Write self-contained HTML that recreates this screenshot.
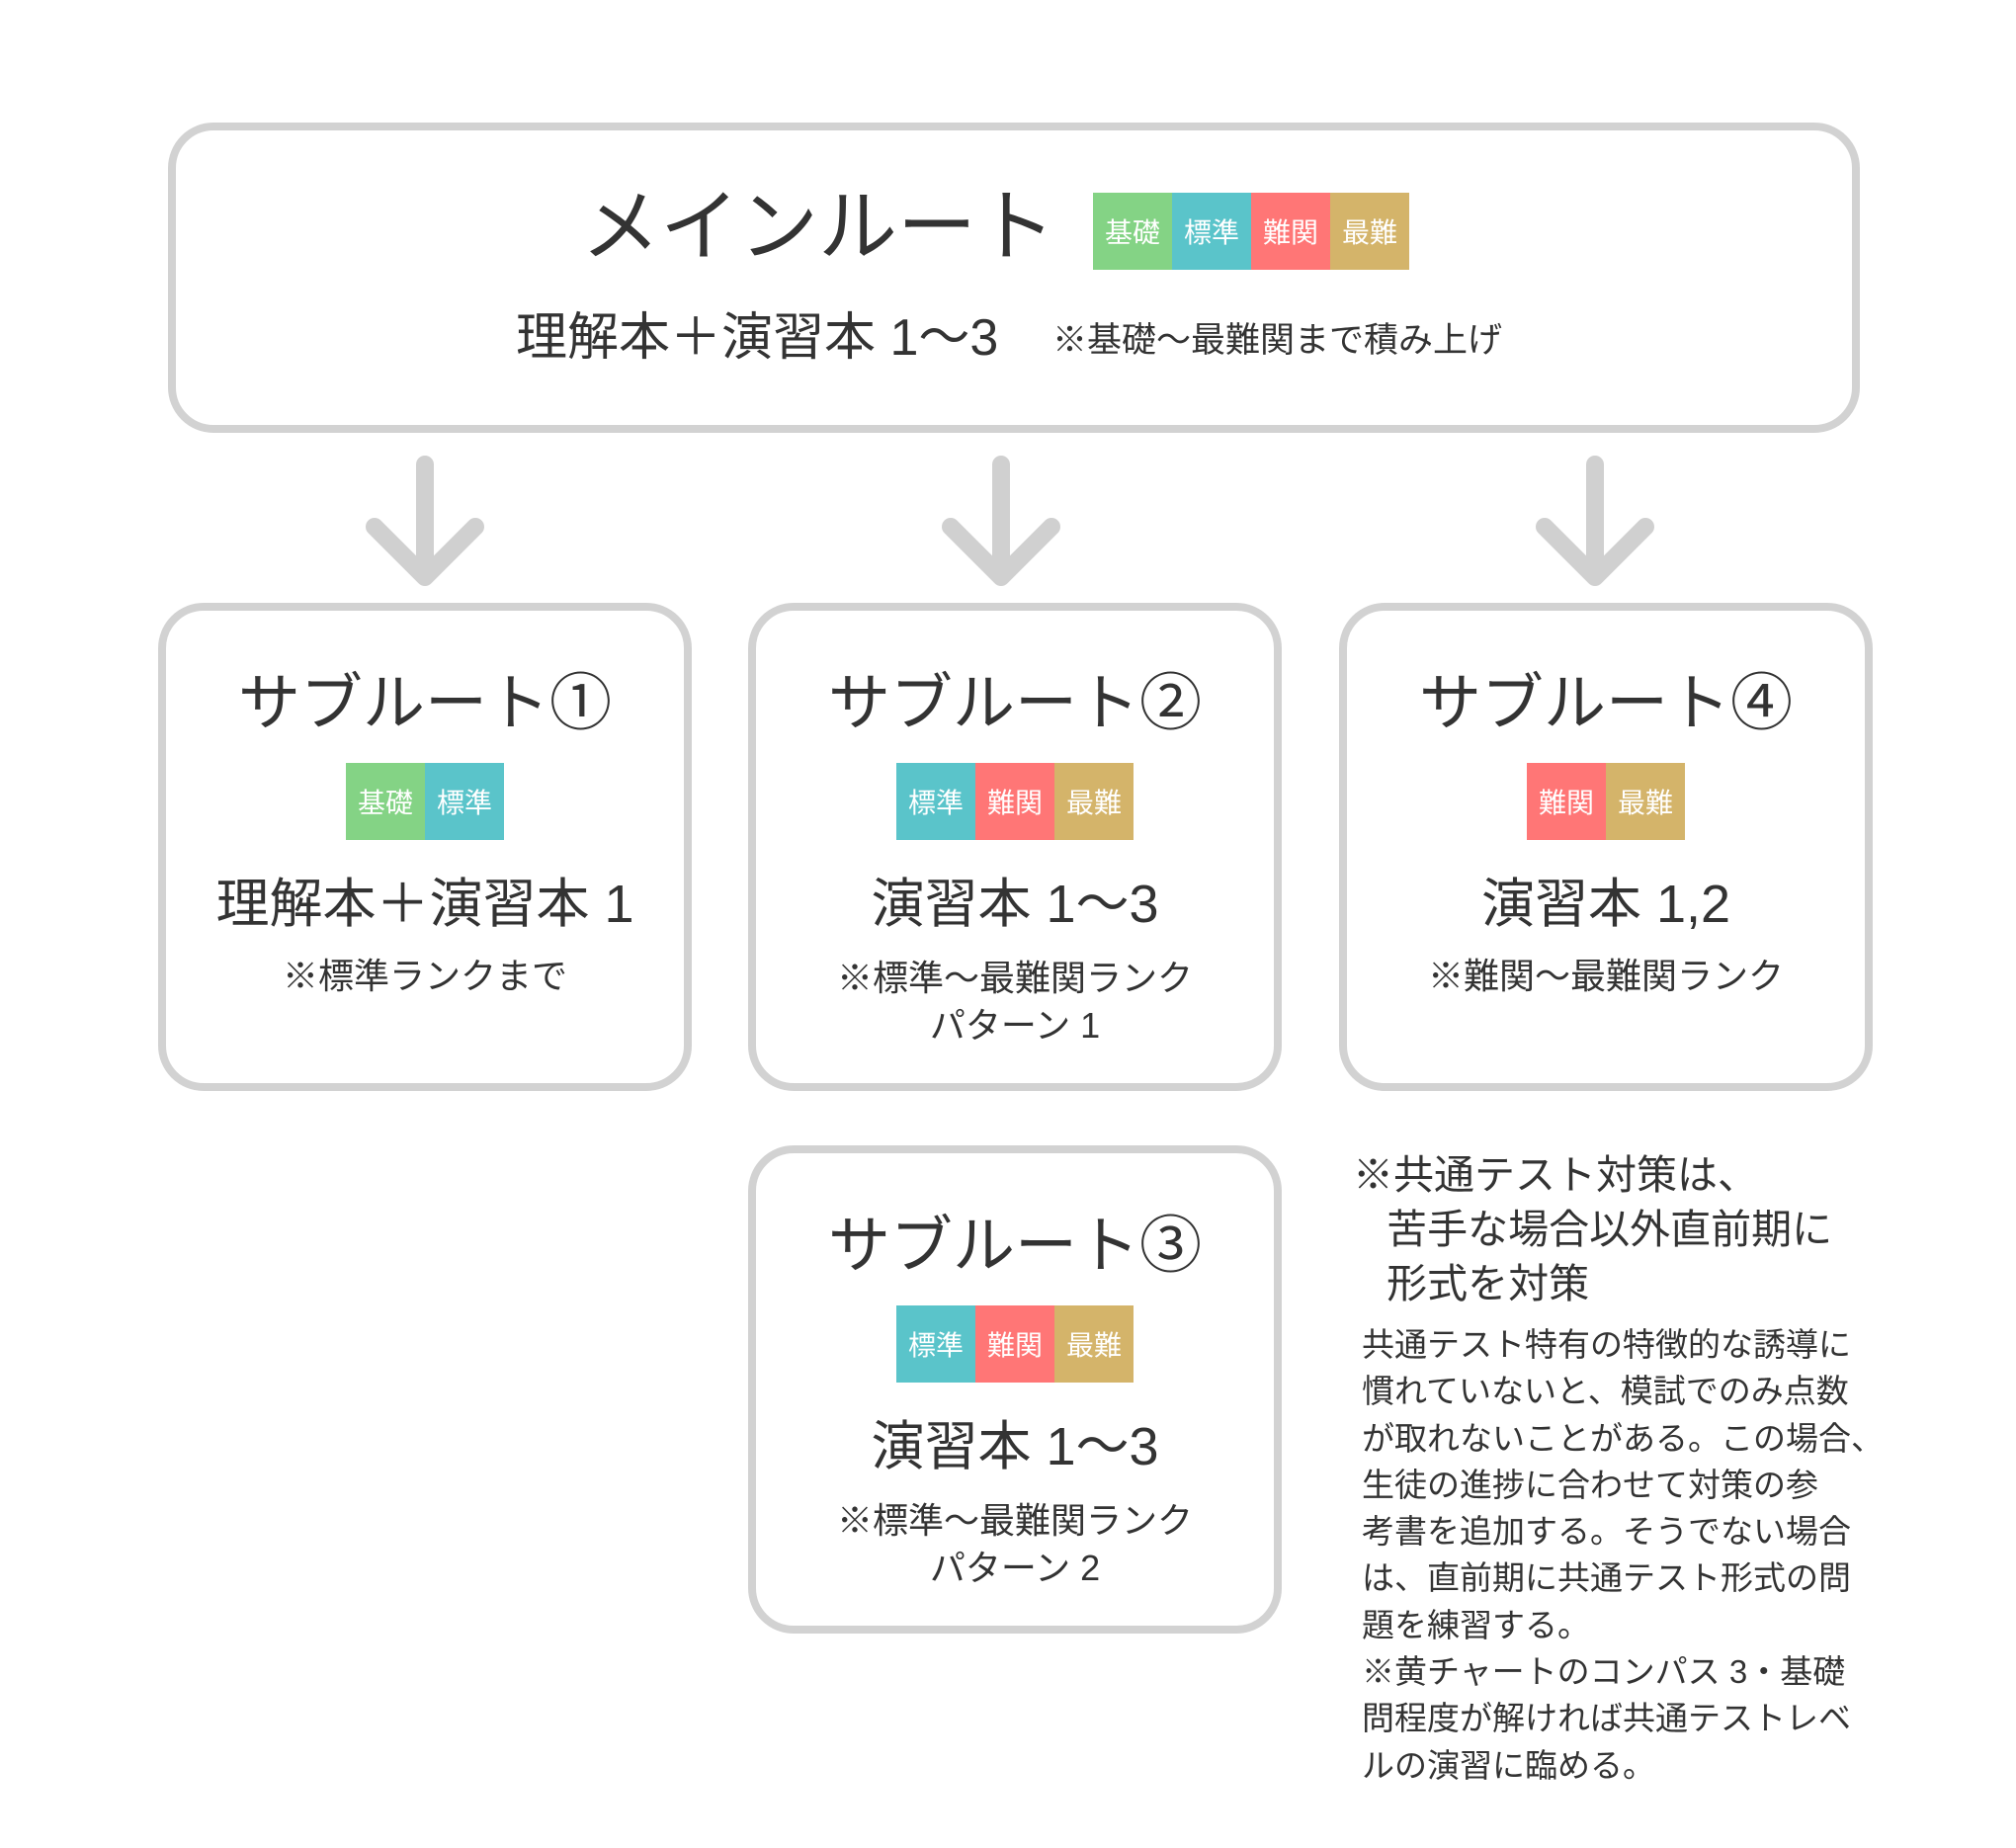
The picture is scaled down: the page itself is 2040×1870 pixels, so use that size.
<!DOCTYPE html>
<html><head><meta charset="utf-8"><style>
body{margin:0;width:2040px;height:1870px;background:#fff;position:relative;overflow:hidden;font-family:"Liberation Sans","Noto Sans CJK JP",sans-serif;color:#333}
.box{position:absolute;border:8px solid #d2d2d2;border-radius:46px;box-sizing:border-box;background:#fff}
.t{position:absolute;white-space:nowrap;line-height:1}
.c{text-align:center}
.bd{position:absolute;display:flex;height:78px}
.bd span{width:80px;height:78px;color:#fff;font-size:28px;display:flex;align-items:center;justify-content:center}
.g{background:#84d385}.b{background:#5ac4ca}.r{background:#ff7676}.y{background:#d4b46a}
</style></head><body>
<div class="box" style="left:170px;top:124px;width:1712px;height:314px"></div>
<div class="t" style="left:588px;top:190px;font-size:80px">メインルート</div>
<div class="bd" style="left:1106px;top:195px"><span class="g">基礎</span><span class="b">標準</span><span class="r">難関</span><span class="y">最難</span></div>
<div class="t" style="left:522px;top:316px;font-size:52px">理解本＋演習本 1〜3</div>
<div class="t" style="left:1065px;top:327px;font-size:35px">※基礎〜最難関まで積み上げ</div>

<svg style="position:absolute;left:0;top:0" width="2040" height="1870">
<g stroke="#d0d0d0" stroke-width="18" stroke-linecap="round" stroke-linejoin="round" fill="none">
<path d="M430 470V584M379 533L430 584L481 533"/>
<path d="M1013 470V584M962 533L1013 584L1064 533"/>
<path d="M1614 470V584M1563 533L1614 584L1665 533"/>
</g></svg>

<div class="box" style="left:160px;top:610px;width:540px;height:494px"></div>
<div class="box" style="left:757px;top:610px;width:540px;height:494px"></div>
<div class="box" style="left:1355px;top:610px;width:540px;height:494px"></div>
<div class="box" style="left:757px;top:1159px;width:540px;height:494px"></div>

<div class="t c" style="left:160px;width:540px;top:681px;font-size:63px">サブルート①</div>
<div class="bd" style="left:350px;top:772px"><span class="g">基礎</span><span class="b">標準</span></div>
<div class="t c" style="left:160px;width:540px;top:888px;font-size:54px">理解本＋演習本 1</div>
<div class="t c" style="left:160px;width:540px;top:970px;font-size:36px">※標準ランクまで</div>

<div class="t c" style="left:757px;width:540px;top:681px;font-size:63px">サブルート②</div>
<div class="bd" style="left:907px;top:772px"><span class="b">標準</span><span class="r">難関</span><span class="y">最難</span></div>
<div class="t c" style="left:757px;width:540px;top:888px;font-size:54px">演習本 1〜3</div>
<div class="t c" style="left:757px;width:540px;top:966px;font-size:36px;line-height:48px">※標準〜最難関ランク<br>パターン 1</div>

<div class="t c" style="left:1355px;width:540px;top:681px;font-size:63px">サブルート④</div>
<div class="bd" style="left:1545px;top:772px"><span class="r">難関</span><span class="y">最難</span></div>
<div class="t c" style="left:1355px;width:540px;top:888px;font-size:54px">演習本 1,2</div>
<div class="t c" style="left:1355px;width:540px;top:970px;font-size:36px">※難関〜最難関ランク</div>

<div class="t c" style="left:757px;width:540px;top:1230px;font-size:63px">サブルート③</div>
<div class="bd" style="left:907px;top:1321px"><span class="b">標準</span><span class="r">難関</span><span class="y">最難</span></div>
<div class="t c" style="left:757px;width:540px;top:1437px;font-size:54px">演習本 1〜3</div>
<div class="t c" style="left:757px;width:540px;top:1515px;font-size:36px;line-height:48px">※標準〜最難関ランク<br>パターン 2</div>

<div class="t" style="left:1369px;top:1162px;font-size:41px;line-height:55px">※共通テスト対策は、<br>&nbsp;&nbsp;&nbsp;苦手な場合以外直前期に<br>&nbsp;&nbsp;&nbsp;形式を対策</div>
<div class="t" style="left:1378px;top:1337px;font-size:33px;line-height:47.3px">共通テスト特有の特徴的な誘導に<br>慣れていないと、模試でのみ点数<br>が取れないことがある。この場合、<br>生徒の進捗に合わせて対策の参<br>考書を追加する。そうでない場合<br>は、直前期に共通テスト形式の問<br>題を練習する。<br>※黄チャートのコンパス 3・基礎<br>問程度が解ければ共通テストレベ<br>ルの演習に臨める。</div>
</body></html>
